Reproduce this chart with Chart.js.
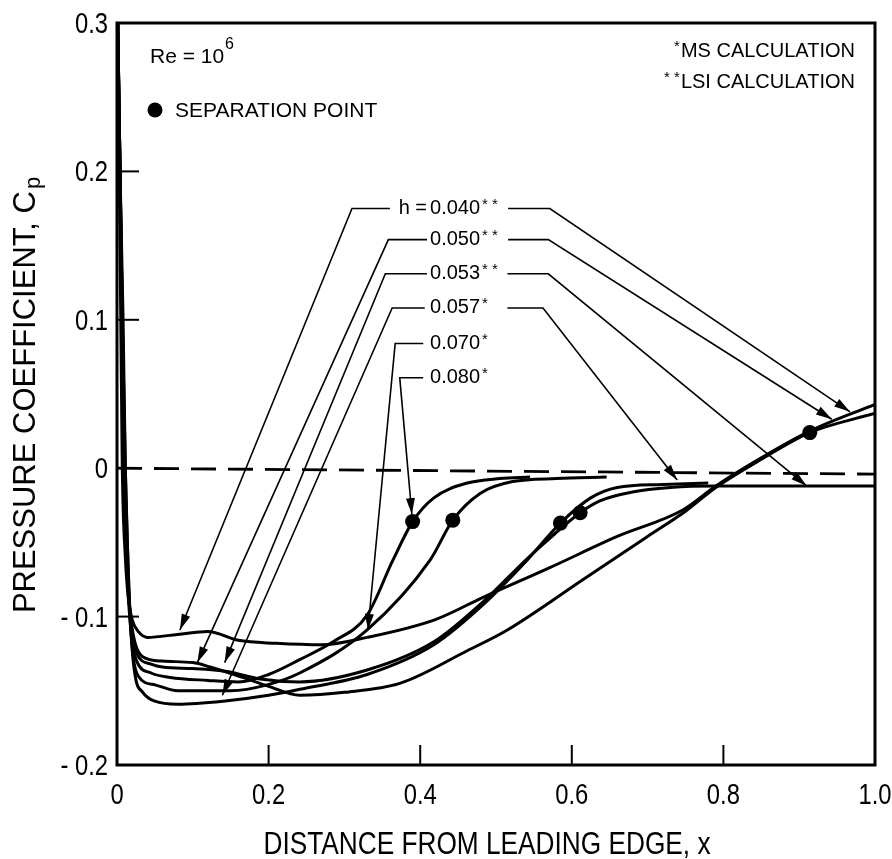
<!DOCTYPE html>
<html>
<head>
<meta charset="utf-8">
<script src="https://cdn.jsdelivr.net/npm/chart.js@4.4.1/dist/chart.umd.min.js"></script>
<style>
  html, body { margin: 0; padding: 0; background: #fff; }
  #wrap { width: 892px; height: 859px; }
</style>
</head>
<body>
<div id="wrap"><canvas id="chart" width="892" height="859"></canvas></div>
<script>
// Axis ticks
const xTicks = [0, 0.2, 0.4, 0.6, 0.8, 1.0];
const xTickLabels = ['0', '0.2', '0.4', '0.6', '0.8', '1.0'];
const yTicks = [-0.2, -0.1, 0, 0.1, 0.2, 0.3];
const yTickLabels = ['- 0.2', '- 0.1', '0', '0.1', '0.2', '0.3'];

// Pressure coefficient curves, [x, Cp]
const h040 = [[0.001, 0.30], [0.003, 0.20], [0.005, 0.10], [0.007, 0.0], [0.011, -0.06], [0.015, -0.088],
  [0.020, -0.102], [0.028, -0.110], [0.040, -0.114], [0.080, -0.112], [0.120, -0.110], [0.160, -0.116],
  [0.210, -0.118], [0.270, -0.119], [0.330, -0.114], [0.420, -0.102], [0.483, -0.087], [0.571, -0.067],
  [0.660, -0.046], [0.747, -0.028], [0.790, -0.012], [0.850, 0.007], [0.914, 0.025], [1.0, 0.043]];
const h050 = [[0.001, 0.30], [0.004, 0.20], [0.006, 0.10], [0.009, 0.0], [0.013, -0.065], [0.018, -0.100],
  [0.024, -0.118], [0.034, -0.127], [0.060, -0.130], [0.100, -0.131], [0.123, -0.134], [0.166, -0.141],
  [0.200, -0.147], [0.241, -0.153], [0.300, -0.151], [0.373, -0.145], [0.462, -0.123], [0.515, -0.109],
  [0.615, -0.075], [0.700, -0.046], [0.750, -0.029], [0.790, -0.013], [0.850, 0.006], [0.914, 0.024], [1.0, 0.037]];
const h053 = [[0.001, 0.30], [0.004, 0.20], [0.007, 0.10], [0.010, 0.0], [0.014, -0.07], [0.019, -0.108],
  [0.026, -0.125], [0.045, -0.132], [0.060, -0.134], [0.100, -0.135], [0.145, -0.137], [0.189, -0.142],
  [0.241, -0.144], [0.330, -0.136], [0.418, -0.117], [0.483, -0.090], [0.541, -0.061], [0.578, -0.044],
  [0.611, -0.030], [0.637, -0.022], [0.680, -0.016], [0.730, -0.013], [0.790, -0.012], [1.0, -0.012]];
const h057 = [[0.001, 0.30], [0.004, 0.20], [0.008, 0.10], [0.011, 0.0], [0.015, -0.07], [0.019, -0.115],
  [0.024, -0.140], [0.034, -0.151], [0.050, -0.157], [0.080, -0.159], [0.140, -0.157], [0.200, -0.153],
  [0.241, -0.149], [0.330, -0.139], [0.418, -0.119], [0.483, -0.092], [0.541, -0.062], [0.585, -0.037],
  [0.625, -0.020], [0.660, -0.013], [0.720, -0.011], [0.780, -0.010]];
const h070 = [[0.001, 0.30], [0.004, 0.20], [0.007, 0.10], [0.011, 0.0], [0.015, -0.075], [0.020, -0.120],
  [0.028, -0.140], [0.050, -0.146], [0.080, -0.150], [0.150, -0.150], [0.198, -0.146], [0.241, -0.138],
  [0.330, -0.109], [0.413, -0.062], [0.443, -0.035], [0.479, -0.017], [0.522, -0.009], [0.580, -0.007], [0.646, -0.006]];
const h080 = [[0.001, 0.30], [0.004, 0.20], [0.007, 0.10], [0.010, 0.0], [0.014, -0.075], [0.019, -0.113],
  [0.026, -0.130], [0.045, -0.138], [0.070, -0.141], [0.120, -0.143], [0.160, -0.144], [0.200, -0.139],
  [0.241, -0.129], [0.285, -0.117], [0.330, -0.099], [0.364, -0.062], [0.390, -0.036], [0.418, -0.020],
  [0.462, -0.010], [0.505, -0.007], [0.545, -0.006]];
const zeroLine = [[0, 0], [1.0, -0.004]];
const separation = [[0.390, -0.036], [0.443, -0.035], [0.585, -0.037], [0.611, -0.030], [0.914, 0.024]];

// Case labels and their leader lines (start, elbow, arrow tip), in data units
const caseNames = ['0.040', '0.050', '0.053', '0.057', '0.070', '0.080'];
const caseStars = ['* *', '* *', '* *', '*', '*', '*'];
const caseRows = [0.175, 0.154, 0.131, 0.108, 0.084, 0.061];
const labelX = 0.413;
const leftLeaders = [
  [[0.360, 0.175], [0.310, 0.175], [0.083, -0.109]],
  [[0.409, 0.154], [0.358, 0.154], [0.106, -0.131]],
  [[0.409, 0.131], [0.354, 0.131], [0.142, -0.131]],
  [[0.406, 0.108], [0.363, 0.108], [0.139, -0.153]],
  [[0.404, 0.084], [0.367, 0.084], [0.331, -0.109]],
  [[0.404, 0.061], [0.373, 0.061], [0.389, -0.031]]
];
const rightLeaders = [
  [[0.516, 0.175], [0.571, 0.175], [0.967, 0.038]],
  [[0.516, 0.154], [0.569, 0.154], [0.943, 0.033]],
  [[0.515, 0.131], [0.569, 0.131], [0.910, -0.012]],
  [[0.515, 0.108], [0.562, 0.108], [0.739, -0.008]]
];

const FONT = '"Liberation Sans", Arial, Helvetica, sans-serif';

function toXY(arr) {
  return arr.map(function(p) { return { x: p[0], y: p[1] }; });
}

function curve(arr) {
  return {
    data: toXY(arr),
    borderColor: '#000',
    borderWidth: 3,
    pointRadius: 0,
    fill: false,
    cubicInterpolationMode: 'monotone'
  };
}

/**
 * Draw text, optionally squeezed horizontally
 */
function text(ctx, s, x, y, size, align, squeeze) {
  ctx.save();
  ctx.translate(x, y);
  ctx.scale(squeeze || 1, 1);
  ctx.font = size + 'px ' + FONT;
  ctx.textAlign = align || 'left';
  ctx.textBaseline = 'middle';
  ctx.fillStyle = '#000';
  ctx.fillText(s, 0, 0);
  ctx.restore();
}

function arrowHead(ctx, from, tip) {
  const ang = Math.atan2(tip[1] - from[1], tip[0] - from[0]);
  const len = 16, half = 4.5;
  ctx.beginPath();
  ctx.moveTo(tip[0], tip[1]);
  ctx.lineTo(tip[0] - len * Math.cos(ang) + half * Math.sin(ang), tip[1] - len * Math.sin(ang) - half * Math.cos(ang));
  ctx.lineTo(tip[0] - len * Math.cos(ang) - half * Math.sin(ang), tip[1] - len * Math.sin(ang) + half * Math.cos(ang));
  ctx.closePath();
  ctx.fill();
}

const figurePlugin = {
  id: 'figure',
  afterDraw: function(chart) {
    const ctx = chart.ctx;
    const xs = chart.scales.x, ys = chart.scales.y;
    const a = chart.chartArea;
    const px = function(v) { return xs.getPixelForValue(v); };
    const py = function(v) { return ys.getPixelForValue(v); };

    ctx.save();
    ctx.strokeStyle = '#000';
    ctx.fillStyle = '#000';

    // frame
    ctx.lineWidth = 3;
    ctx.strokeRect(a.left, a.top, a.right - a.left, a.bottom - a.top);

    // inward ticks
    ctx.lineWidth = 2;
    yTicks.forEach(function(v) {
      if (v <= -0.2 || v >= 0.3) return;
      ctx.beginPath();
      ctx.moveTo(a.left, py(v));
      ctx.lineTo(a.left + 22, py(v));
      ctx.stroke();
    });
    xTicks.forEach(function(v) {
      if (v <= 0 || v >= 1) return;
      ctx.beginPath();
      ctx.moveTo(px(v), a.bottom);
      ctx.lineTo(px(v), a.bottom - 20);
      ctx.stroke();
    });

    // tick labels
    yTicks.forEach(function(v, i) {
      text(ctx, yTickLabels[i], a.left - 9, py(v) + 2, 29, 'right', 0.82);
    });
    xTicks.forEach(function(v, i) {
      text(ctx, xTickLabels[i], px(v), a.bottom + 31, 29, 'center', 0.82);
    });

    // axis titles
    text(ctx, 'DISTANCE FROM LEADING EDGE, x', 487, 845, 32, 'center', 0.82);
    ctx.save();
    ctx.translate(26, 395);
    ctx.rotate(-Math.PI / 2);
    ctx.font = '31px ' + FONT;
    const main = 'PRESSURE COEFFICIENT, C';
    const wMain = ctx.measureText(main).width;
    ctx.font = '22px ' + FONT;
    const wSub = ctx.measureText('p').width;
    const start = -(wMain + wSub + 2) / 2;
    text(ctx, main, start, 0, 31, 'left');
    text(ctx, 'p', start + wMain + 2, 8, 22, 'left');
    ctx.restore();

    // Reynolds number and legend
    text(ctx, 'Re = 10', 150, 57, 21, 'left');
    text(ctx, '6', 225, 45, 16, 'left');
    ctx.beginPath();
    ctx.arc(155, 110, 7.5, 0, Math.PI * 2);
    ctx.fill();
    text(ctx, 'SEPARATION POINT', 175, 111, 21, 'left');
    text(ctx, 'MS CALCULATION', 855, 51, 20, 'right');
    text(ctx, 'LSI CALCULATION', 855, 82, 20, 'right');
    ctx.font = '20px ' + FONT;
    const wMs = ctx.measureText('MS CALCULATION').width;
    const wLsi = ctx.measureText('LSI CALCULATION').width;
    text(ctx, '*', 855 - wMs - 1, 47, 15, 'right');
    text(ctx, '* *', 855 - wLsi - 1, 78, 15, 'right');

    // case labels
    caseNames.forEach(function(name, i) {
      const x = px(labelX), y = py(caseRows[i]);
      text(ctx, name, x, y, 20, 'left');
      ctx.font = '20px ' + FONT;
      const w = ctx.measureText(name).width;
      text(ctx, caseStars[i], x + w + 2, y - 4, 15, 'left');
      if (i === 0) text(ctx, 'h =', x - 3, y, 20, 'right');
    });

    // leader lines with arrow heads
    ctx.lineWidth = 1.6;
    leftLeaders.concat(rightLeaders).forEach(function(seg) {
      const pts = seg.map(function(p) { return [px(p[0]), py(p[1])]; });
      ctx.beginPath();
      ctx.moveTo(pts[0][0], pts[0][1]);
      for (let k = 1; k < pts.length; k++) ctx.lineTo(pts[k][0], pts[k][1]);
      ctx.stroke();
      arrowHead(ctx, pts[pts.length - 2], pts[pts.length - 1]);
    });

    ctx.restore();
  }
};

new Chart(document.getElementById('chart'), {
  type: 'line',
  data: {
    datasets: [
      curve(h040), curve(h050), curve(h053), curve(h057), curve(h070), curve(h080),
      {
        data: toXY(zeroLine),
        borderColor: '#000',
        borderWidth: 2.8,
        borderDash: [25, 12],
        pointRadius: 0,
        fill: false
      },
      {
        data: toXY(separation),
        showLine: false,
        pointRadius: 7.5,
        pointBackgroundColor: '#000',
        pointBorderColor: '#000',
        pointBorderWidth: 0
      }
    ]
  },
  options: {
    responsive: false,
    animation: false,
    devicePixelRatio: 1,
    layout: { padding: { left: 0, right: 17, top: 23, bottom: 0 } },
    plugins: { legend: { display: false }, tooltip: { enabled: false } },
    scales: {
      x: {
        type: 'linear', min: 0, max: 1.0,
        grid: { display: false }, border: { display: false },
        ticks: { display: false },
        afterFit: function(s) { s.height = 94; }
      },
      y: {
        type: 'linear', min: -0.2, max: 0.3,
        grid: { display: false }, border: { display: false },
        ticks: { display: false },
        afterFit: function(s) { s.width = 117; }
      }
    }
  },
  plugins: [figurePlugin]
});
</script>
</body>
</html>
